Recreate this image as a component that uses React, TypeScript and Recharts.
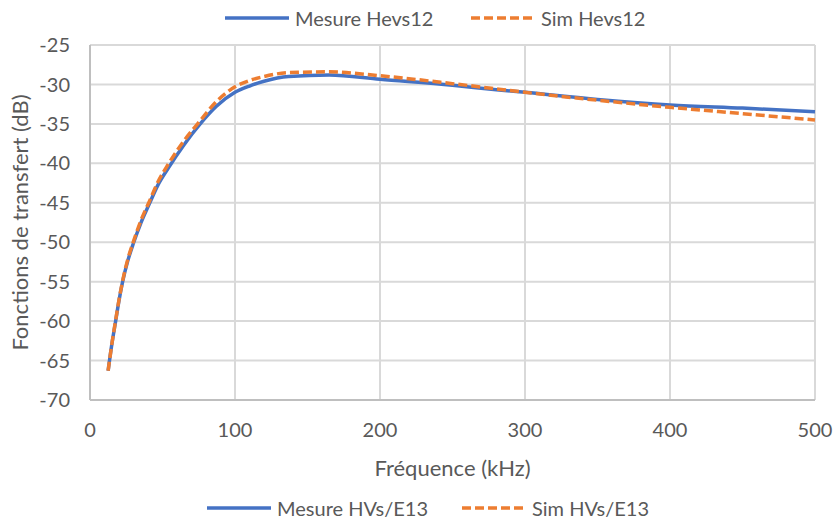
import React from 'react';
import { LineChart, Line, XAxis, YAxis, CartesianGrid } from 'recharts';

// Frequency in kHz
const freqKHz = [12.5, 15, 17.5, 20, 22.5, 26, 30, 35, 41, 47, 54, 65, 76, 87, 100, 110, 120, 137, 165, 200, 250, 282, 300, 350, 400, 450, 500];
// Transfer functions in dB
const mesureHevs12 = [-66.3, -63, -60.2, -57.4, -55, -52.4, -50.1, -47.6, -45.1, -42.7, -40.6, -37.6, -35, -32.8, -31.0, -30.2, -29.6, -29.0, -28.8, -29.35, -30.1, -30.7, -31.0, -31.9, -32.6, -33.0, -33.45];
const simHevs12 = [-66.3, -63, -60.1, -57.3, -54.9, -52.2, -49.9, -47.3, -44.8, -42.3, -40.1, -37.1, -34.6, -32.2, -30.3, -29.5, -29.0, -28.5, -28.4, -28.9, -29.9, -30.6, -31.0, -32.0, -32.9, -33.7, -34.5];

const xTicks = [0, 100, 200, 300, 400, 500];
const yTicks = [-70, -65, -60, -55, -50, -45, -40, -35, -30, -25];

const topLegend = ['Mesure Hevs12', 'Sim Hevs12'];
const bottomLegend = ['Mesure HVs/E13', 'Sim HVs/E13'];

const xLabel = 'Fréquence (kHz)';
const yLabel = 'Fonctions de transfert (dB)';

const BLUE = '#4472C4';
const ORANGE = '#ED7D31';
const TEXT = '#595959';
const FONT = 'Lato, "Liberation Sans", Arial, sans-serif';
const FS = 20;
const FS_TITLE = 22;

const data = freqKHz.map((f, i) => ({ f, mesure: mesureHevs12[i], sim: simHevs12[i] }));

function LegendItem({ left, top, label, dashed }: { left: number; top: number; label: string; dashed: boolean }) {
  return (
    <div style={{ position: 'absolute', left, top, display: 'flex', alignItems: 'center', whiteSpace: 'nowrap' }}>
      <svg width={66} height={6} style={{ marginRight: 5 }}>
        <line x1={1} y1={3} x2={65} y2={3} stroke={dashed ? ORANGE : BLUE} strokeWidth={3.5}
          strokeDasharray={dashed ? '9 4' : undefined} />
      </svg>
      <span style={{ fontFamily: FONT, fontSize: FS, color: TEXT, lineHeight: '22px' }}>{label}</span>
    </div>
  );
}

export default function App() {
  return (
    <div style={{ position: 'absolute', left: 0, top: 0, width: 835, height: 524, background: '#fff' }}>
      <LineChart width={835} height={524} data={data} margin={{ top: 45, right: 20, left: 0, bottom: 44 }}>
        <CartesianGrid stroke="#D9D9D9" strokeWidth={2} />
        <XAxis
          dataKey="f"
          type="number"
          domain={[0, 500]}
          ticks={xTicks}
          height={80}
          tickLine={false}
          axisLine={{ stroke: '#BFBFBF', strokeWidth: 2 }}
          tickMargin={17}
          tick={{ fill: TEXT, fontSize: FS, fontFamily: FONT }}
          label={{ value: xLabel, position: 'insideBottom', offset: 4, fill: TEXT, fontSize: FS_TITLE, fontFamily: FONT }}
        />
        <YAxis
          type="number"
          domain={[-70, -25]}
          ticks={yTicks}
          width={90}
          tickLine={false}
          axisLine={{ stroke: '#BFBFBF', strokeWidth: 2 }}
          tickMargin={14}
          tick={{ fill: TEXT, fontSize: FS, fontFamily: FONT }}
          label={{ value: yLabel, angle: -90, position: 'insideLeft', offset: 20, fill: TEXT, fontSize: FS_TITLE, fontFamily: FONT, style: { textAnchor: 'middle' } }}
        />
        <Line type="monotone" dataKey="mesure" stroke={BLUE} strokeWidth={3.5} dot={false} isAnimationActive={false} />
        <Line type="monotone" dataKey="sim" stroke={ORANGE} strokeWidth={3.5} strokeDasharray="9 4" dot={false} isAnimationActive={false} />
      </LineChart>
      <LegendItem left={224} top={7} label={topLegend[0]} dashed={false} />
      <LegendItem left={470} top={7} label={topLegend[1]} dashed={true} />
      <LegendItem left={206} top={497} label={bottomLegend[0]} dashed={false} />
      <LegendItem left={461} top={497} label={bottomLegend[1]} dashed={true} />
    </div>
  );
}
